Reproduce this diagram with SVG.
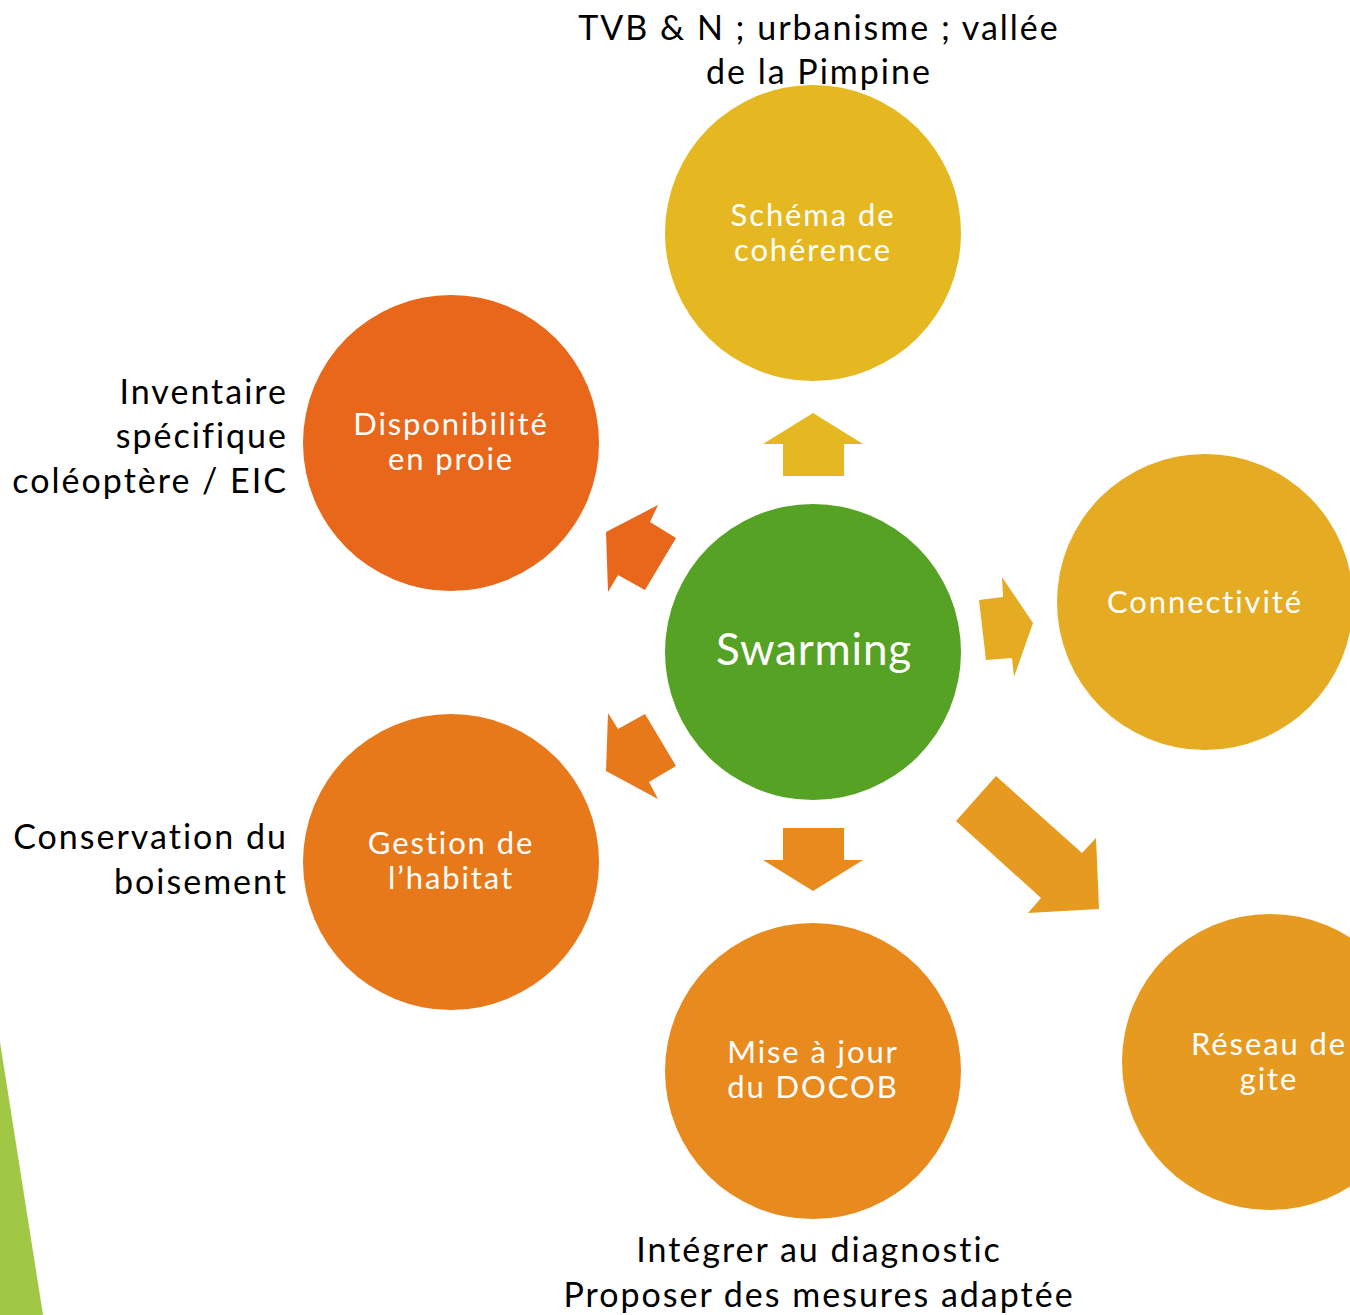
<svg xmlns="http://www.w3.org/2000/svg" width="1350" height="1315" viewBox="0 0 1350 1315">
<style>
  text { font-variant-ligatures: none; font-family: Lato, "Liberation Sans", sans-serif; }
  .ext { font-size: 34px; fill: #000; letter-spacing: 2px; }
  .in { font-size: 31px; fill: #fff; text-anchor: middle; letter-spacing: 1.9px; }
  .big { font-size: 44px; letter-spacing: 0.8px; }
</style>
<rect width="1350" height="1315" fill="#fff"/>
<polygon points="0,1042 43,1315 0,1315" fill="#a0c844"/>
<g id="connectors">
  <polygon points="813,413 863,444 844,444 844,476 783,476 783,444 763,444" fill="#e5b821"/>
  <polygon points="606,532 658,505 650,522 676,538 645,590 618,575 608,592" fill="#e8671a"/>
  <polygon points="1033,623 1014,677 1012,658 986,660 979,600 1003,597 1002,577" fill="#e5ab22"/>
  <polygon points="606,771 608,713 618,729 645,714 676,766 649,782 658,799" fill="#e8791b"/>
  <polygon points="813,891 763,860 783,860 783,828 844,828 844,860 863,860" fill="#e88a1d"/>
  <polygon points="956,821 996,776 1082,853 1096,838 1099,909 1028,913 1041,898" fill="#e69a1f"/>
</g>
<g id="node-center">
  <circle cx="813" cy="652" r="148" fill="#56a224"/>
  <text class="in big" x="814" y="665">Swarming</text>
</g>
<g id="node-schema">
  <circle cx="813" cy="233" r="148" fill="#e5b821"/>
  <text class="in" x="813" y="226">Schéma de</text>
  <text class="in" x="813" y="261">cohérence</text>
</g>
<g id="node-dispo">
  <circle cx="451" cy="443" r="148" fill="#e8671a"/>
  <text class="in" x="451" y="435">Disponibilité</text>
  <text class="in" x="451" y="470">en proie</text>
</g>
<g id="node-connect">
  <circle cx="1205" cy="602" r="148" fill="#e5ab22"/>
  <text class="in" x="1205" y="613">Connectivité</text>
</g>
<g id="node-gestion">
  <circle cx="451" cy="862" r="148" fill="#e8791b"/>
  <text class="in" x="451" y="854">Gestion de</text>
  <text class="in" x="451" y="889">l’habitat</text>
</g>
<g id="node-docob">
  <circle cx="813" cy="1071" r="148" fill="#e88a1d"/>
  <text class="in" x="813" y="1063">Mise à jour</text>
  <text class="in" x="813" y="1098">du DOCOB</text>
</g>
<g id="node-reseau">
  <circle cx="1270" cy="1062" r="148" fill="#e69a1f"/>
  <text class="in" x="1269" y="1055">Réseau de</text>
  <text class="in" x="1269" y="1090">gite</text>
</g>
<g id="labels">
  <text class="ext" x="819" y="40" text-anchor="middle">TVB &amp; N ; urbanisme ; vallée</text>
  <text class="ext" x="819" y="84" text-anchor="middle">de la Pimpine</text>
  <text class="ext" x="288" y="404" text-anchor="end">Inventaire</text>
  <text class="ext" x="288" y="448" text-anchor="end">spécifique</text>
  <text class="ext" x="288" y="493" text-anchor="end">coléoptère / EIC</text>
  <text class="ext" x="288" y="849" text-anchor="end">Conservation du</text>
  <text class="ext" x="288" y="894" text-anchor="end">boisement</text>
  <text class="ext" x="819" y="1262" text-anchor="middle">Intégrer au diagnostic</text>
  <text class="ext" x="819" y="1307" text-anchor="middle">Proposer des mesures adaptée</text>
</g>
</svg>
